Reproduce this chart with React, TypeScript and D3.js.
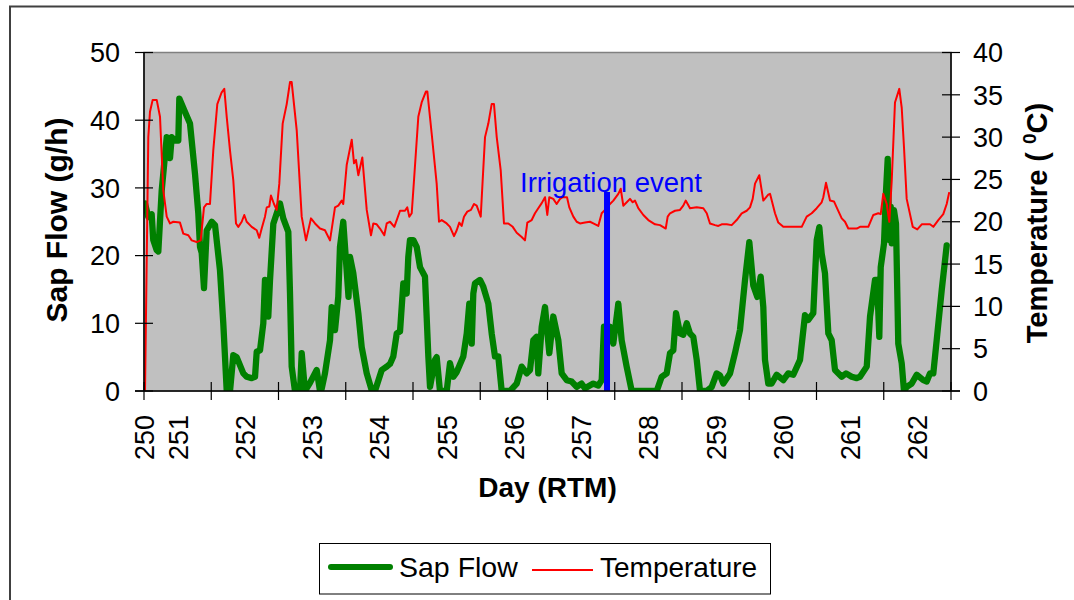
import React from "react";
import * as d3 from "d3";

// Sap flow (g/h) [day, value]
const sapFlow: [number, number][] = [
  [250.015,27.7],[250.064,25.7],[250.114,26.1],[250.138,22.3],[250.189,20.8],[250.213,20.6],[250.263,29.6],[250.338,37.5],[250.387,34.4],[250.412,37.5],[250.461,37.0],[250.510,37.0],[250.525,43.2],[250.610,41.2],[250.684,39.5],[250.758,32.1],[250.807,26.3],[250.833,21.3],[250.858,20.4],[250.892,15.2],[250.932,23.7],[251.007,25.0],[251.056,24.5],[251.130,17.8],[251.179,10.0],[251.230,0],[251.279,0],[251.328,5.3],[251.378,5.0],[251.477,2.6],[251.527,2.1],[251.601,1.9],[251.651,2.1],[251.676,5.8],[251.725,6.0],[251.774,10.0],[251.799,16.4],[251.848,11.0],[251.874,16.4],[251.923,24.7],[252.022,27.7],[252.071,25.5],[252.146,23.5],[252.171,14.4],[252.196,3.6],[252.245,0],[252.320,0],[252.345,5.6],[252.394,0],[252.468,1.2],[252.568,3.1],[252.617,0],[252.642,0.3],[252.691,2.6],[252.766,7.5],[252.791,12.4],[252.840,9.0],[252.889,13.9],[252.914,21.3],[252.963,25.0],[253.041,13.9],[253.063,19.8],[253.112,17.4],[253.187,11.5],[253.237,6.5],[253.312,2.6],[253.386,0.1],[253.435,0],[253.535,3.1],[253.609,3.6],[253.658,4.0],[253.707,5.1],[253.758,8.5],[253.807,8.8],[253.856,15.9],[253.906,14.4],[253.930,19.8],[253.955,22.3],[254.004,22.3],[254.055,21.3],[254.104,18.3],[254.178,16.9],[254.228,5.1],[254.253,0.6],[254.327,4.6],[254.352,5.0],[254.401,0],[254.501,0],[254.550,4.1],[254.599,2.1],[254.650,2.8],[254.748,5.1],[254.799,8.5],[254.837,12.9],[254.873,7.0],[254.897,14.4],[254.922,15.9],[254.996,16.4],[255.045,15.4],[255.120,12.9],[255.170,8.5],[255.219,5.1],[255.268,5.1],[255.319,0],[255.442,0],[255.542,1.1],[255.616,3.6],[255.691,2.6],[255.740,3.1],[255.789,7.5],[255.839,8.0],[255.863,2.6],[255.914,9.5],[255.963,12.4],[256.027,5.6],[256.086,11.0],[256.161,7.5],[256.211,2.6],[256.286,1.6],[256.360,1.4],[256.434,0.6],[256.506,1.1],[256.558,0.4],[256.681,1.1],[256.755,0.8],[256.806,1.6],[256.840,9.5],[256.929,9.5],[256.978,7.0],[257.053,12.9],[257.103,7.5],[257.177,3.6],[257.252,0],[257.624,0],[257.698,2.1],[257.772,2.6],[257.822,5.6],[257.871,6.0],[257.911,11.5],[257.970,8.5],[258.019,8.3],[258.070,10.0],[258.119,8.5],[258.168,8.0],[258.219,4.6],[258.268,0],[258.368,0],[258.442,0.6],[258.516,2.6],[258.565,2.3],[258.614,1.1],[258.714,2.6],[258.788,5.6],[258.862,9.0],[258.937,16.4],[259.001,22.0],[259.060,15.6],[259.120,13.9],[259.170,16.9],[259.209,12.4],[259.234,4.6],[259.283,1.1],[259.333,1.1],[259.407,2.4],[259.506,1.6],[259.580,2.6],[259.655,2.4],[259.755,4.6],[259.829,11.2],[259.878,10.5],[259.952,11.5],[260.003,22.3],[260.042,24.2],[260.077,20.3],[260.126,17.4],[260.176,8.5],[260.226,7.5],[260.275,3.1],[260.375,2.1],[260.439,2.6],[260.523,2.1],[260.598,1.9],[260.647,2.1],[260.747,3.6],[260.796,11.0],[260.870,16.4],[260.900,16.4],[260.934,8.0],[260.955,18.3],[261.004,21.8],[261.034,29.6],[261.059,34.3],[261.083,22.3],[261.104,27.2],[261.119,21.8],[261.152,26.7],[261.182,24.7],[261.216,7.0],[261.267,4.1],[261.301,0],[261.341,0.6],[261.416,1.1],[261.490,2.4],[261.588,1.6],[261.639,1.4],[261.688,2.6],[261.737,2.6],[261.787,7.5],[261.862,14.9],[261.936,21.5]
];

// Temperature (°C) [day, value]
const temperature: [number, number][] = [
  [250.015,0],[250.064,30.0],[250.089,33.0],[250.129,34.4],[250.189,34.4],[250.238,32.4],[250.287,23.7],[250.338,20.6],[250.387,19.8],[250.436,20.0],[250.535,19.9],[250.584,18.6],[250.659,18.4],[250.709,17.8],[250.784,17.6],[250.843,17.8],[250.892,21.7],[250.932,22.1],[250.981,22.1],[251.030,28.4],[251.090,33.9],[251.155,35.3],[251.194,35.7],[251.230,32.4],[251.279,28.4],[251.328,24.9],[251.368,19.8],[251.402,19.4],[251.453,20.0],[251.491,20.8],[251.527,20.0],[251.601,19.4],[251.676,19.0],[251.714,18.1],[251.750,19.2],[251.799,20.6],[251.825,21.7],[251.863,21.8],[251.888,23.1],[251.933,22.1],[251.973,21.4],[252.012,24.5],[252.062,31.6],[252.122,33.9],[252.171,36.5],[252.196,36.5],[252.271,30.8],[252.345,20.6],[252.409,17.8],[252.483,20.4],[252.543,19.8],[252.617,19.2],[252.691,19.0],[252.766,17.8],[252.840,21.7],[252.889,21.9],[252.940,22.5],[252.963,22.1],[253.014,26.7],[253.089,29.7],[253.123,26.9],[253.152,27.3],[253.187,25.5],[253.246,27.6],[253.312,21.4],[253.375,18.4],[253.410,19.8],[253.460,19.7],[253.509,19.2],[253.573,18.4],[253.609,19.8],[253.658,20.0],[253.722,19.4],[253.758,20.2],[253.807,21.3],[253.881,21.3],[253.915,21.7],[253.945,20.6],[253.981,21.0],[254.015,24.9],[254.079,32.4],[254.129,34.1],[254.193,35.4],[254.213,35.4],[254.278,30.4],[254.352,24.5],[254.387,20.0],[254.427,20.2],[254.501,19.8],[254.550,19.4],[254.610,18.3],[254.650,19.0],[254.688,19.9],[254.724,19.5],[254.758,20.6],[254.807,21.2],[254.862,21.4],[254.907,22.1],[254.947,21.9],[255.007,20.6],[255.036,24.9],[255.071,30.0],[255.120,31.6],[255.170,33.9],[255.204,33.9],[255.245,30.0],[255.304,26.1],[255.353,19.8],[255.417,19.8],[255.483,19.4],[255.542,18.7],[255.616,18.2],[255.665,17.8],[255.700,19.9],[255.765,20.2],[255.814,21.0],[255.863,21.6],[255.914,22.2],[255.963,22.9],[255.997,20.8],[256.027,22.9],[256.086,22.7],[256.136,22.1],[256.186,22.7],[256.226,22.9],[256.290,22.9],[256.324,21.7],[256.384,20.6],[256.434,20.0],[256.483,19.8],[256.558,19.9],[256.632,20.0],[256.681,19.8],[256.755,19.5],[256.806,21.0],[256.855,21.4],[256.904,21.9],[256.979,22.5],[257.053,23.3],[257.089,23.9],[257.127,21.9],[257.178,22.3],[257.227,22.7],[257.267,22.3],[257.301,22.5],[257.350,21.6],[257.425,20.8],[257.499,20.2],[257.599,19.7],[257.673,19.6],[257.758,19.2],[257.787,20.6],[257.822,21.0],[257.896,21.3],[257.970,21.4],[258.019,21.9],[258.055,22.5],[258.119,21.6],[258.219,21.7],[258.317,21.6],[258.368,21.0],[258.416,19.8],[258.491,19.6],[258.540,19.5],[258.590,19.7],[258.665,19.7],[258.739,19.6],[258.813,20.2],[258.888,21.0],[258.962,21.3],[259.011,21.7],[259.051,22.7],[259.086,24.5],[259.149,25.5],[259.209,22.5],[259.283,23.2],[259.309,23.3],[259.383,21.0],[259.432,19.9],[259.506,19.4],[259.780,19.4],[259.854,20.6],[259.929,21.0],[260.003,21.6],[260.077,22.3],[260.101,22.9],[260.141,24.6],[260.201,22.5],[260.260,22.4],[260.300,21.7],[260.375,20.4],[260.424,20.0],[260.473,19.2],[260.598,19.2],[260.647,19.4],[260.770,19.4],[260.845,20.8],[260.919,21.0],[260.955,20.9],[260.993,23.3],[261.044,22.1],[261.083,20.0],[261.119,24.9],[261.167,34.1],[261.231,35.7],[261.267,33.5],[261.301,28.8],[261.341,22.7],[261.431,19.4],[261.499,19.1],[261.565,19.7],[261.688,19.7],[261.737,19.4],[261.811,20.2],[261.885,20.9],[261.936,22.1],[261.974,23.5]
];

const xTickDays = [250, 251, 252, 253, 254, 255, 256, 257, 258, 259, 260, 261, 262];
const xLabelTexts = ["250", "251", "252", "253", "254", "255", "256", "257", "258", "259", "260", "261", "262"];
const xLabelDays = [250, 250.5, 251.5, 252.5, 253.5, 254.5, 255.5, 256.5, 257.5, 258.5, 259.5, 260.5, 261.5];
const sapTicks = [0, 10, 20, 30, 40, 50];
const tempTicks = [0, 5, 10, 15, 20, 25, 30, 35, 40];
const irrigationDay = 256.885;
const irrigationTop = 29.4; // on sap flow axis

const FONT = "'Liberation Sans', Arial, Helvetica, sans-serif";

export default function App() {
  const L = 144, R = 951, T = 52.5, B = 391;
  const x = d3.scaleLinear().domain([250, 262]).range([L, R]);
  const ySap = d3.scaleLinear().domain([0, 50]).range([B, T]);
  const yTemp = d3.scaleLinear().domain([0, 40]).range([B, T]);

  const sapLine = d3.line<[number, number]>().x(d => x(d[0])).y(d => ySap(d[1]));
  const tempLine = d3.line<[number, number]>().x(d => x(d[0])).y(d => yTemp(d[1]));

  return (
    <svg width={1074} height={600} style={{ position: "absolute", left: 0, top: 0 }} fontFamily={FONT}>
      <rect x={0} y={0} width={1074} height={600} fill="#ffffff" />
      {/* outer chart border */}
      <rect x={10} y={6.5} width={1100} height={650} fill="none" stroke="#404040" strokeWidth={2} />

      <defs>
        <clipPath id="plotClip">
          <rect x={L} y={T} width={R - L} height={B - T} />
        </clipPath>
      </defs>

      {/* plot area */}
      <rect x={L} y={T} width={R - L} height={B - T} fill="#C0C0C0" stroke="#808080" strokeWidth={1.5} />

      <g clipPath="url(#plotClip)">
        <path d={sapLine(sapFlow) || ""} fill="none" stroke="#008000" strokeWidth={6.3} strokeLinejoin="round" strokeLinecap="round" />
        <path d={tempLine(temperature) || ""} fill="none" stroke="#FF0000" strokeWidth={2} strokeLinejoin="round" />
      </g>

      {/* irrigation event */}
      <line x1={x(irrigationDay)} x2={x(irrigationDay)} y1={ySap(irrigationTop)} y2={B} stroke="#0000FF" strokeWidth={6} />
      <text x={520} y={192} fontSize={27.5} fill="#0000FF">Irrigation event</text>

      {/* axes lines */}
      <line x1={L} x2={L} y1={T} y2={B} stroke="#000" strokeWidth={1.5} />
      <line x1={R} x2={R} y1={T} y2={B} stroke="#000" strokeWidth={1.5} />
      <line x1={L - 9} x2={R + 9} y1={B} y2={B} stroke="#000" strokeWidth={1.5} />

      {/* x ticks */}
      {xTickDays.map(d => (
        <line key={"xt" + d} x1={x(d)} x2={x(d)} y1={B - 9} y2={B + 9} stroke="#000" strokeWidth={1.2} />
      ))}
      {xLabelTexts.map((t, i) => (
        <text key={"xl" + t} transform={`translate(${x(xLabelDays[i]) + 10},415) rotate(-90)`} textAnchor="end" fontSize={27} fill="#000">{t}</text>
      ))}

      {/* left axis ticks */}
      {sapTicks.map(v => (
        <g key={"ys" + v}>
          <line x1={L - 9} x2={L + 9} y1={ySap(v)} y2={ySap(v)} stroke="#000" strokeWidth={1.2} />
          <text x={120} y={ySap(v)} dy="0.36em" textAnchor="end" fontSize={27} fill="#000">{v}</text>
        </g>
      ))}

      {/* right axis ticks */}
      {tempTicks.map(v => (
        <g key={"yt" + v}>
          <line x1={R - 9} x2={R + 9} y1={yTemp(v)} y2={yTemp(v)} stroke="#000" strokeWidth={1.2} />
          <text x={973} y={yTemp(v)} dy="0.36em" textAnchor="start" fontSize={27} fill="#000">{v}</text>
        </g>
      ))}

      {/* axis titles */}
      <text transform="translate(67,220) rotate(-90)" textAnchor="middle" fontSize={30} fontWeight="bold" fill="#000">Sap Flow (g/h)</text>
      <text transform="translate(1047,223) rotate(-90)" textAnchor="middle" fontSize={29} fontWeight="bold" fill="#000">
        {"Temperature (\u00a0"}<tspan fontSize={19} dy={-11}>0</tspan><tspan dy={11}>C)</tspan>
      </text>
      <text x={(L + R) / 2} y={497} textAnchor="middle" fontSize={28} fontWeight="bold" fill="#000">Day (RTM)</text>

      {/* legend */}
      <rect x={319.5} y={543.5} width={451} height={50.5} fill="#ffffff" stroke="#000" strokeWidth={1} />
      <line x1={331} x2={390} y1={567} y2={567} stroke="#008000" strokeWidth={6} strokeLinecap="round" />
      <text x={399} y={577} fontSize={28.5} fill="#000">Sap Flow</text>
      <line x1={532} x2={593} y1={570} y2={570} stroke="#FF0000" strokeWidth={2} />
      <text x={600} y={577} fontSize={28} fill="#000">Temperature</text>
    </svg>
  );
}
